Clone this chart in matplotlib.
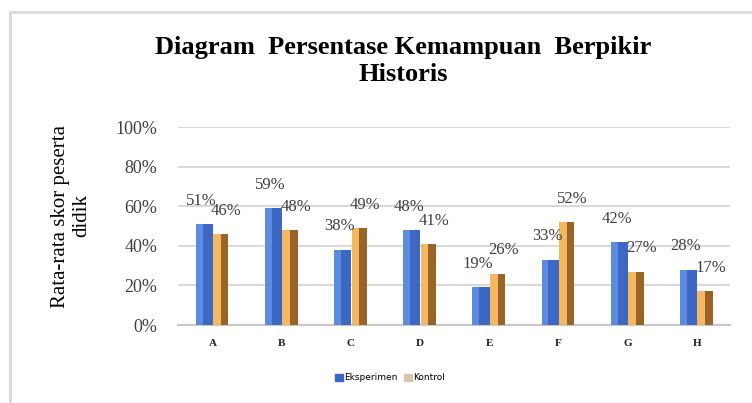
import matplotlib
matplotlib.use("Agg")
import matplotlib.pyplot as plt
import numpy as np
from matplotlib.lines import Line2D
from matplotlib.patches import Patch

# data
kategori = ["A", "B", "C", "D", "E", "F", "G", "H"]
eksperimen = [51, 59, 38, 48, 19, 33, 42, 28]
kontrol = [46, 48, 49, 41, 26, 52, 27, 17]
yticks = [0, 20, 40, 60, 80, 100]

plt.rcParams["font.family"] = ["Liberation Serif", "DejaVu Serif"]

fig = plt.figure(figsize=(7.52, 4.03), dpi=100)
ax = fig.add_axes([178 / 752, 78 / 403, 552 / 752, 198 / 403])

x = np.arange(len(kategori))
w_e, w_k = 0.25, 0.22
pos_e = x - 0.12
pos_k = x + 0.12

# bars with a simple 3D-ish shading strip
ax.bar(pos_e, eksperimen, w_e, color="#3C68C4", zorder=3)
ax.bar(pos_e - w_e * 0.3, eksperimen, w_e * 0.4, color="#5C8BE2", zorder=4)
ax.bar(pos_k, kontrol, w_k, color="#F4B860", zorder=3)
ax.bar(pos_k + w_k * 0.25, kontrol, w_k * 0.5, color="#9A6328", zorder=4)

for xe, v in zip(pos_e, eksperimen):
    ax.annotate(f"{v}%", (xe, v), xytext=(-2, 11), textcoords="offset points",
                ha="center", va="bottom", fontsize=12, color="#404040", zorder=5)
for xk, v in zip(pos_k, kontrol):
    ax.annotate(f"{v}%", (xk, v), xytext=(4, 11), textcoords="offset points",
                ha="center", va="bottom", fontsize=12, color="#404040", zorder=5)

ax.set_xlim(-0.5, 7.48)
ax.set_ylim(0, 100)
ax.set_yticks(yticks)
ax.set_yticklabels([f"{t}%" for t in yticks], fontsize=13, color="#404040")
ax.set_xticks(x)
ax.set_xticklabels(kategori, fontsize=8, fontweight="bold", color="#202020")
ax.tick_params(axis="both", length=0)
ax.tick_params(axis="y", pad=15)
ax.tick_params(axis="x", pad=10)
ax.grid(axis="y", color="#D9D9D9", lw=1.5, zorder=0)
for s in ["top", "right", "left"]:
    ax.spines[s].set_visible(False)
ax.spines["bottom"].set_color("#C8C8C8")
ax.spines["bottom"].set_linewidth(1.5)

fig.text(403 / 752, 1 - 61 / 403, "Diagram  Persentase Kemampuan  Berpikir\nHistoris",
         ha="center", va="center", fontsize=19, fontweight="bold",
         linespacing=1.2)

fig.text(71 / 752, 1 - 216 / 403, "Rata-rata skor peserta\ndidik", rotation=90,
         ha="center", va="center", fontsize=15, multialignment="center",
         linespacing=1.15)

handles = [Patch(color="#3C68C4", label="Eksperimen"),
           Patch(color="#D9C4B0", label="Kontrol")]
fig.legend(handles=handles, loc="center", bbox_to_anchor=(390 / 752, 1 - 378 / 403),
           ncol=2, frameon=False, handlelength=0.9, handleheight=0.9,
           handletextpad=0.1, columnspacing=0.8,
           prop={"family": "DejaVu Sans", "size": 6.5})

# outer chart frame
fig.add_artist(Line2D([10 / 752, 10 / 752], [0, 1 - 12 / 403], color="#D9D9D9", lw=2))
fig.add_artist(Line2D([10 / 752, 1], [1 - 12 / 403, 1 - 12 / 403], color="#D9D9D9", lw=2))

fig.savefig("out.png", dpi=100)
